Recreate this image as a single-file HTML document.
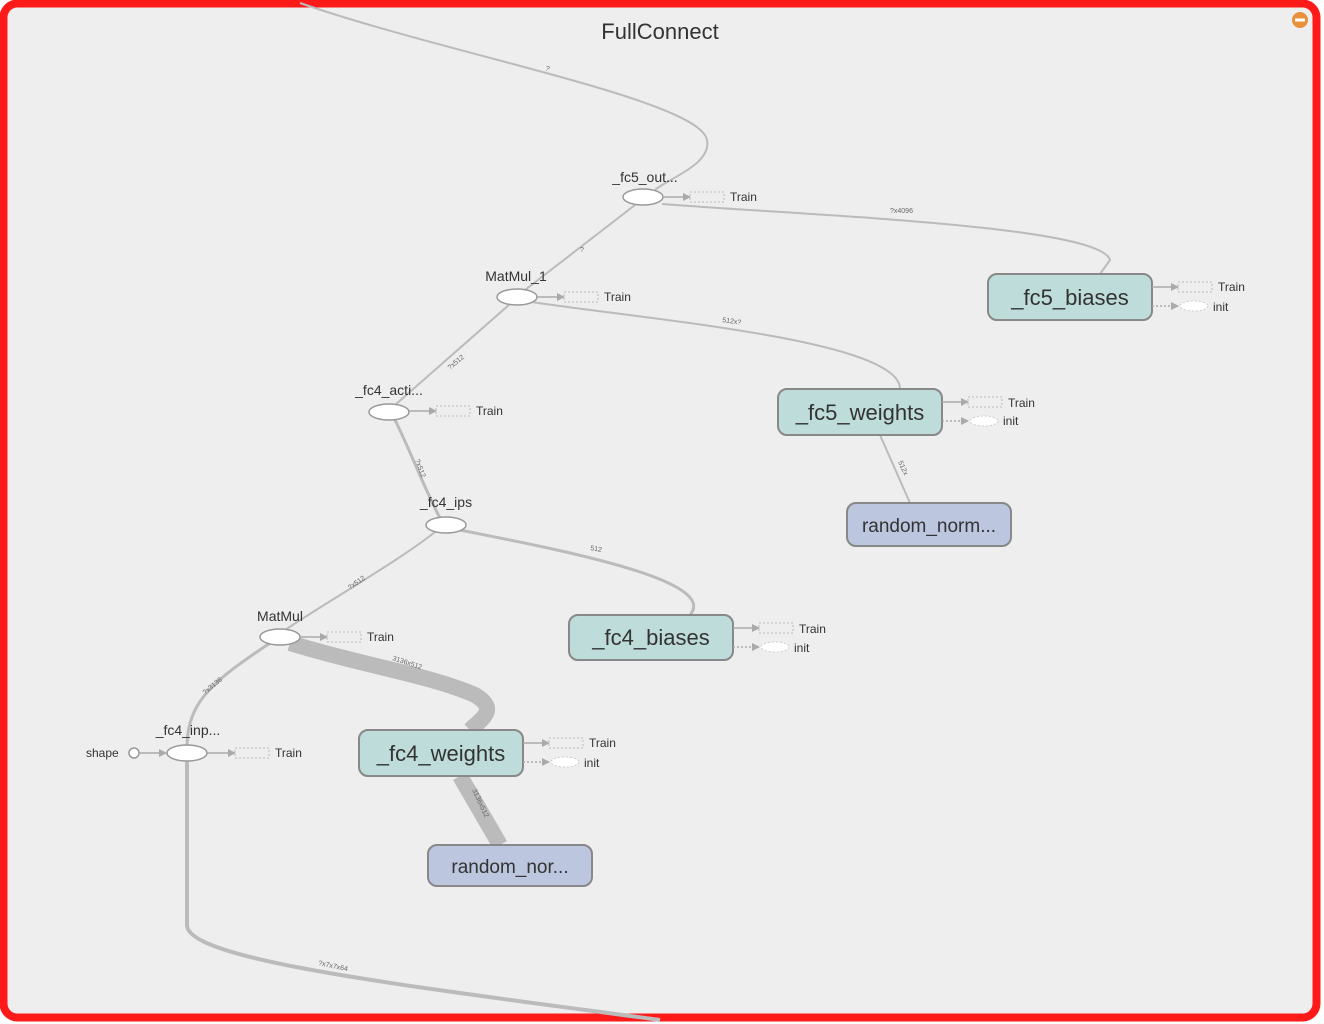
<!DOCTYPE html>
<html><head><meta charset="utf-8"><style>
html,body{margin:0;padding:0;background:#fff;}
svg{display:block;font-family:"Liberation Sans",sans-serif;}
</style></head><body>
<svg width="1324" height="1024" viewBox="0 0 1324 1024" xmlns="http://www.w3.org/2000/svg">
<defs>
<marker id="ar" markerWidth="8" markerHeight="8" refX="7" refY="4" orient="auto" markerUnits="userSpaceOnUse"><path d="M0,0 L8,4 L0,8 z" fill="#aaa"/></marker>
</defs>
<rect x="3.5" y="3.5" width="1313" height="1014" rx="14" fill="#eeeeee" stroke="#ff1a1a" stroke-width="8"/>
<circle cx="1300" cy="20" r="8" fill="#e8903a"/><rect x="1295" y="18.5" width="10" height="3" fill="#fff"/>
<text x="660" y="39" font-size="22" text-anchor="middle" fill="#333">FullConnect</text>

<g fill="none" stroke="#bbb">
<path d="M300,3 C450,55 700,100 707,140 C712,165 665,180 655,190" stroke-width="2"/>
<path d="M662,204 C800,215 1100,225 1110,260 L1100,274" stroke-width="2"/>
<path d="M525,290 L635,205" stroke-width="2"/>
<path d="M532,302 C650,320 900,340 900,389" stroke-width="2"/>
<path d="M395,405 L510,304" stroke-width="2"/>
<path d="M395,420 C410,450 425,490 440,518" stroke-width="3"/>
<path d="M460,530 C560,550 720,580 690,615" stroke-width="3"/>
<path d="M285,630 C330,600 400,560 435,532" stroke-width="2"/>
<path d="M290,643 C360,665 430,675 475,695 C500,710 480,720 470,730" stroke-width="16"/>
<path d="M460,776 L500,845" stroke-width="16"/>
<path d="M880,435 L910,503" stroke-width="2"/>
<path d="M270,643 C215,680 188,700 187,745" stroke-width="3"/>
<path d="M187,761 L187,925 C187,960 400,985 660,1020" stroke-width="4"/>
</g>
<g font-size="7" fill="#666">
<text x="545" y="70" transform="rotate(20 545 70)">?</text>
<text x="580" y="252">?</text>
<text x="890" y="213">?x4096</text>
<text x="722" y="322" transform="rotate(8 722 322)">512x?</text>
<text x="450" y="370" transform="rotate(-40 450 370)">?x512</text>
<text x="415" y="460" transform="rotate(70 415 460)">?x512</text>
<text x="590" y="550" transform="rotate(10 590 550)">512</text>
<text x="350" y="590" transform="rotate(-35 350 590)">?x512</text>
<text x="392" y="660" transform="rotate(18 392 660)">3136x512</text>
<text x="205" y="695" transform="rotate(-40 205 695)">?x3136</text>
<text x="472" y="790" transform="rotate(65 472 790)">3136x512</text>
<text x="898" y="462" transform="rotate(65 898 462)">512x</text>
<text x="318" y="965" transform="rotate(12 318 965)">?x7x7x64</text>
</g>

<g fill="#fff" stroke="#999" stroke-width="1.5">
<ellipse cx="643" cy="197" rx="20" ry="8"/>
<ellipse cx="517" cy="297" rx="20" ry="8"/>
<ellipse cx="389" cy="412" rx="20" ry="8"/>
<ellipse cx="446" cy="525" rx="20" ry="8"/>
<ellipse cx="280" cy="637" rx="20" ry="8"/>
<ellipse cx="187" cy="753" rx="20" ry="8"/>
<circle cx="134" cy="753" r="5"/>
</g>
<g font-size="14" fill="#333" text-anchor="middle">
<text x="645" y="182">_fc5_out...</text>
<text x="516" y="281">MatMul_1</text>
<text x="389" y="395">_fc4_acti...</text>
<text x="446" y="507">_fc4_ips</text>
<text x="280" y="621">MatMul</text>
<text x="188" y="735">_fc4_inp...</text>
</g>
<text x="86" y="757" font-size="12" fill="#333">shape</text>
<line x1="139" y1="753" x2="166" y2="753" stroke="#aaa" stroke-width="1.5" marker-end="url(#ar)"/>

<g stroke="#888" stroke-width="2">
<rect x="988" y="274" width="164" height="46" rx="9" fill="#bddcda"/>
<rect x="778" y="389" width="164" height="46" rx="9" fill="#bddcda"/>
<rect x="569" y="615" width="164" height="45" rx="9" fill="#bddcda"/>
<rect x="359" y="730" width="164" height="46" rx="9" fill="#bddcda"/>
<rect x="847" y="503" width="164" height="43" rx="9" fill="#bcc6de"/>
<rect x="428" y="845" width="164" height="41" rx="9" fill="#bcc6de"/>
</g>
<g font-size="22" fill="#333" text-anchor="middle">
<text x="1070" y="305">_fc5_biases</text>
<text x="860" y="420">_fc5_weights</text>
<text x="651" y="645">_fc4_biases</text>
<text x="441" y="761">_fc4_weights</text>
<text x="929" y="532" font-size="19">random_norm...</text>
<text x="510" y="873" font-size="19">random_nor...</text>
</g>

<g font-size="12" fill="#333">
<!-- Train stubs -->
<g stroke="#aaa" stroke-width="1.5">
<line x1="663" y1="197" x2="690" y2="197" marker-end="url(#ar)"/>
<line x1="537" y1="297" x2="564" y2="297" marker-end="url(#ar)"/>
<line x1="409" y1="411" x2="436" y2="411" marker-end="url(#ar)"/>
<line x1="300" y1="637" x2="327" y2="637" marker-end="url(#ar)"/>
<line x1="207" y1="753" x2="235" y2="753" marker-end="url(#ar)"/>
<line x1="1152" y1="287" x2="1178" y2="287" marker-end="url(#ar)"/>
<line x1="942" y1="402" x2="968" y2="402" marker-end="url(#ar)"/>
<line x1="733" y1="628" x2="759" y2="628" marker-end="url(#ar)"/>
<line x1="523" y1="743" x2="549" y2="743" marker-end="url(#ar)"/>
<line x1="1152" y1="306" x2="1178" y2="306" stroke-dasharray="2 2" marker-end="url(#ar)"/>
<line x1="942" y1="421" x2="968" y2="421" stroke-dasharray="2 2" marker-end="url(#ar)"/>
<line x1="733" y1="647" x2="759" y2="647" stroke-dasharray="2 2" marker-end="url(#ar)"/>
<line x1="523" y1="762" x2="549" y2="762" stroke-dasharray="2 2" marker-end="url(#ar)"/>
</g>
<g fill="none" stroke="#bbb" stroke-dasharray="2 2">
<rect x="690" y="192" width="34" height="10"/>
<rect x="564" y="292" width="34" height="10"/>
<rect x="436" y="406" width="34" height="10"/>
<rect x="327" y="632" width="34" height="10"/>
<rect x="235" y="748" width="34" height="10"/>
<rect x="1178" y="282" width="34" height="10"/>
<rect x="968" y="397" width="34" height="10"/>
<rect x="759" y="623" width="34" height="10"/>
<rect x="549" y="738" width="34" height="10"/>
</g>
<g fill="#fff" stroke="#ccc" stroke-dasharray="2 2">
<ellipse cx="1194" cy="306" rx="14" ry="5"/>
<ellipse cx="984" cy="421" rx="14" ry="5"/>
<ellipse cx="775" cy="647" rx="14" ry="5"/>
<ellipse cx="565" cy="762" rx="14" ry="5"/>
</g>
<text x="730" y="201">Train</text>
<text x="604" y="301">Train</text>
<text x="476" y="415">Train</text>
<text x="367" y="641">Train</text>
<text x="275" y="757">Train</text>
<text x="1218" y="291">Train</text>
<text x="1213" y="311">init</text>
<text x="1008" y="407">Train</text>
<text x="1003" y="425">init</text>
<text x="799" y="633">Train</text>
<text x="794" y="652">init</text>
<text x="589" y="747">Train</text>
<text x="584" y="767">init</text>
</g>
</svg>
</body></html>
